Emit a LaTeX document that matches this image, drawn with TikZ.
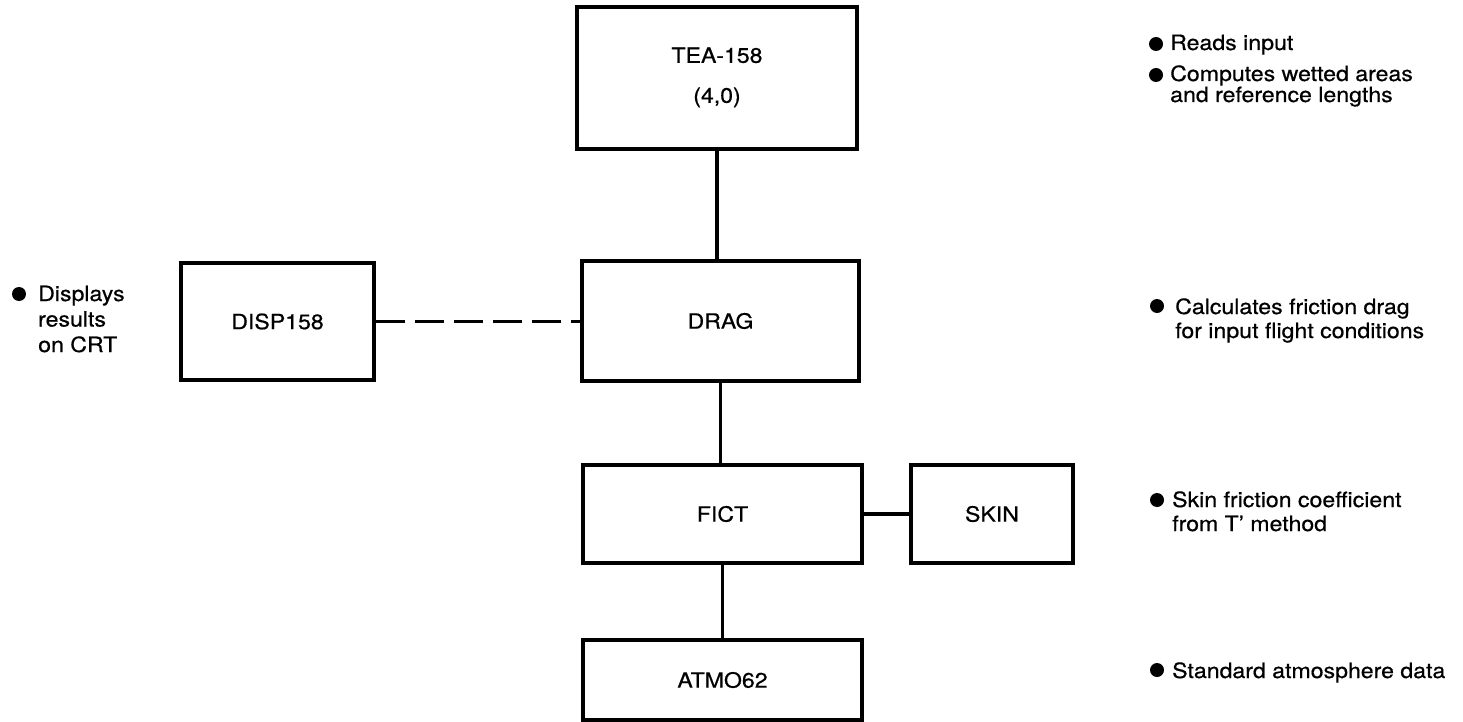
\documentclass[tikz,border=0pt]{standalone}
\usepackage{fontspec}
\setmainfont{TeX Gyre Heros}[FakeStretch=1.1,FakeBold=0.6]
\begin{document}
\begin{tikzpicture}[x=1pt,y=-1pt,
  every node/.style={font=\fontsize{21}{24}\selectfont},
  box/.style={draw, line width=3.5pt, inner sep=0pt, align=center},
  link/.style={line width=3.5pt},
  dashlink/.style={line width=3.5pt, dash pattern=on 29pt off 10pt},
  bullet/.style={circle, fill=black, inner sep=0pt, minimum size=14pt},
  txt/.style={anchor=base west, inner sep=0pt, align=left}]
\useasboundingbox[fill=white] (0,0) rectangle (1463,722);
% boxes
\node[box, minimum width=280pt, minimum height=142pt] (tea) at (717,78) {\raisebox{-6pt}{\begin{tabular}{@{}c@{}}TEA-158\\[16pt](4,0)\end{tabular}}};
\node[box, minimum width=277pt, minimum height=120pt] (drag) at (720.5,321) {DRAG};
\node[box, minimum width=193pt, minimum height=117pt] (disp) at (277.5,321.5) {DISP158};
\node[box, minimum width=279pt, minimum height=98pt] (fict) at (722.5,514) {FICT};
\node[box, minimum width=162pt, minimum height=98pt] (skin) at (992,514) {SKIN};
\node[box, minimum width=279pt, minimum height=80pt] (atmo) at (722.5,680) {\raisebox{-6pt}{ATMO62}};
% connectors
\draw[link] (tea.south) -- (tea.south |- drag.north);
\draw[link] (drag.south) -- (drag.south |- fict.north);
\draw[link] (fict.south) -- (fict.south |- atmo.north);
\draw[link] (fict.east) -- (fict.east -| skin.west);
\draw[dashlink] (disp.east) -- (disp.east -| drag.west);
% annotations left (multi-line nodes anchored at the baseline of their last line)
\node[bullet] (bl) at (19,294) {};
\node[txt, font=\fontsize{21}{25.5}\selectfont] (tl) at (38,352) {Displays\\results\\on CRT};
% annotations right
\node[bullet] (b1) at (1156,44) {};
\node[txt] (t1) at (1170,50) {Reads input};
\node[bullet] (b2) at (1156,75) {};
\node[txt, font=\fontsize{21}{21}\selectfont] (t2) at (1170,102) {Computes wetted areas\\and reference lengths};
\node[bullet] (b3) at (1157,306) {};
\node[txt, font=\fontsize{21}{24}\selectfont] (t3) at (1175,338) {Calculates friction drag\\for input flight conditions};
\node[bullet] (b4) at (1157,500) {};
\node[txt, font=\fontsize{21}{24}\selectfont] (t4) at (1172,531) {Skin friction coefficient\\from T’ method};
\node[bullet] (b5) at (1157,670) {};
\node[txt] (t5) at (1172,678) {Standard atmosphere data};
\end{tikzpicture}
\end{document}
